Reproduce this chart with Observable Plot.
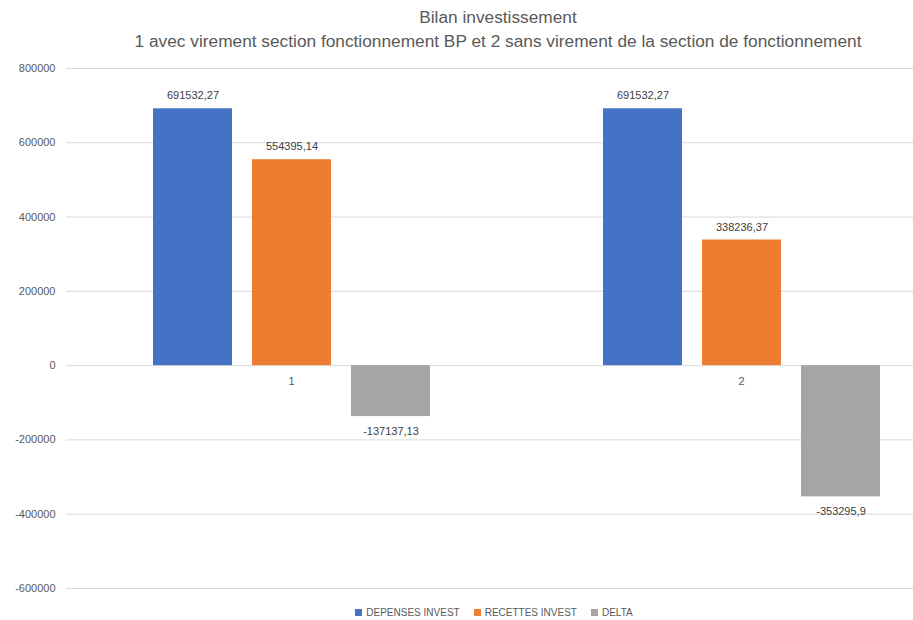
<!DOCTYPE html>
<html><head><meta charset="utf-8">
<script src="https://cdn.jsdelivr.net/npm/d3@7"></script>
<script src="https://cdn.jsdelivr.net/npm/@observablehq/plot@0.6"></script>
<style>
body{margin:0;background:#fff;font-family:"Liberation Sans",Arial,sans-serif;width:913px;height:620px;overflow:hidden;position:relative}
#title{position:absolute;top:5px;left:72px;width:852px;text-align:center;color:#595959;font-size:17.3px;line-height:24px}
#chart{position:absolute;top:55px;left:0}
#legend{position:absolute;top:606px;left:0;width:913px;padding-left:75px;box-sizing:border-box;display:flex;justify-content:center;gap:14px;font-size:10px;color:#595959;line-height:14px}
#legend span.sw{display:inline-block;width:7px;height:7px;margin-right:4px;vertical-align:0px}
</style>
</head><body>
<div id="title">Bilan investissement<br>1 avec virement section fonctionnement BP et 2 sans virement de la section de fonctionnement</div>
<div id="chart"></div>
<div id="legend"></div>
<script>
const groups = ["1", "2"];
const series = ["DEPENSES INVEST", "RECETTES INVEST", "DELTA"];
const depenses = [691532.27, 691532.27];
const recettes = [554395.14, 338236.37];
const delta = [-137137.13, -353295.9];
const valueLabels = [["691532,27", "554395,14", "-137137,13"], ["691532,27", "338236,37", "-353295,9"]];
const colors = ["#4472C4", "#ED7D31", "#A5A5A5"];
const yTicks = [-600000, -400000, -200000, 0, 200000, 400000, 600000, 800000];

const data = [];
groups.forEach((g, i) => {
  [depenses[i], recettes[i], delta[i]].forEach((v, j) => {
    data.push({group: g, series: series[j], value: v, label: valueLabels[i][j]});
  });
});
const pos = data.filter(d => d.value >= 0);
const neg = data.filter(d => d.value < 0);

const chart = Plot.plot({
  width: 913,
  height: 545,
  marginTop: 13,
  marginBottom: 12,
  marginLeft: 66,
  marginRight: 0,
  style: {fontFamily: "Liberation Sans, Arial, sans-serif", fontSize: "11px", color: "#595959", background: "white"},
  fx: {domain: groups, range: [66, 966], padding: 0, axis: null},
  x: {domain: series, paddingInner: 0.206, paddingOuter: 0.865, axis: null},
  y: {domain: [-600000, 800000], ticks: yTicks, tickFormat: d => String(d), tickSize: 0, tickPadding: 11, label: null},
  color: {domain: series, range: colors},
  marks: [
    Plot.ruleY(yTicks, {stroke: "#d9d9d9", strokeWidth: 1}),
    Plot.barY(data, {fx: "group", x: "series", y: "value", fill: "series"}),
    Plot.text(pos, {fx: "group", x: "series", y: "value", text: "label", dy: -13, fill: "#404040", fontSize: 11}),
    Plot.text(neg, {fx: "group", x: "series", y: "value", text: "label", dy: 15, fill: "#404040", fontSize: 11}),
    Plot.text(groups, {fx: d => d, y: () => 0, text: d => d, dy: 16, frameAnchor: "middle", fill: "#595959", fontSize: 11})
  ]
});
document.getElementById("chart").appendChild(chart);

const legend = document.getElementById("legend");
series.forEach((s, i) => {
  const item = document.createElement("div");
  item.innerHTML = `<span class="sw" style="background:${colors[i]}"></span>${s}`;
  legend.appendChild(item);
});
</script>
</body></html>
